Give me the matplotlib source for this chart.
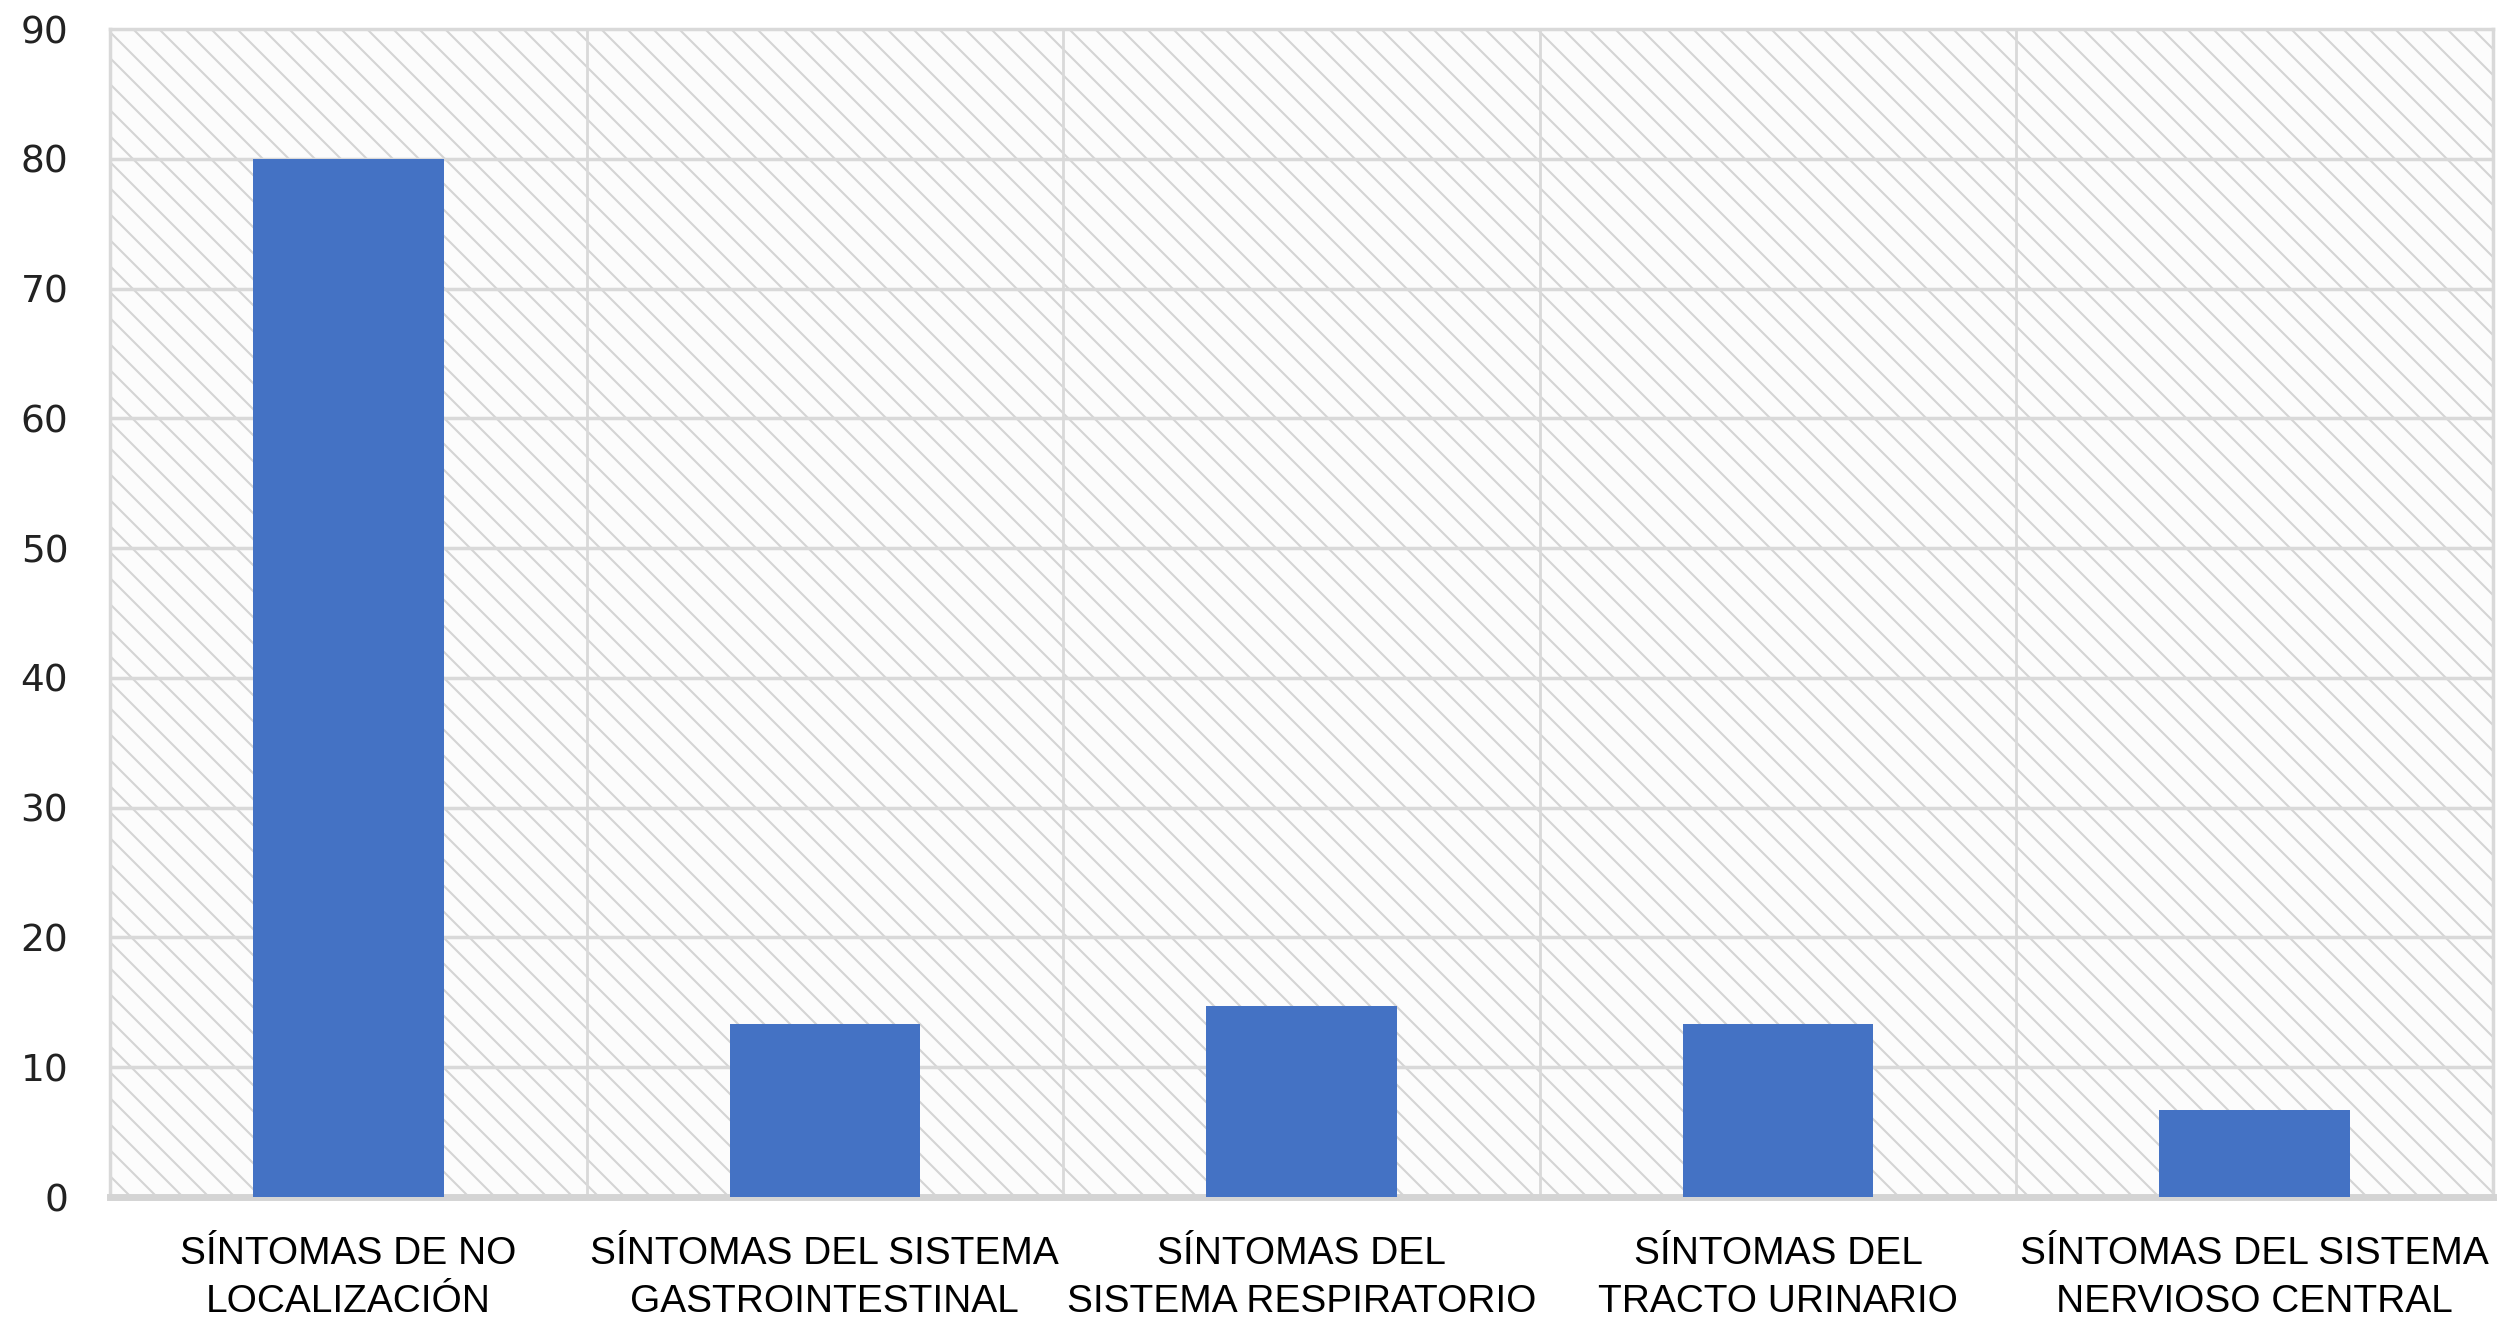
import numpy as np
import matplotlib
matplotlib.use("Agg")
import matplotlib.pyplot as plt
from matplotlib.patches import Rectangle

categories = ["SÍNTOMAS DE NO\nLOCALIZACIÓN",
              "SÍNTOMAS DEL SISTEMA\nGASTROINTESTINAL",
              "SÍNTOMAS DEL\nSISTEMA RESPIRATORIO",
              "SÍNTOMAS DEL\nTRACTO URINARIO",
              "SÍNTOMAS DEL SISTEMA\nNERVIOSO CENTRAL"]
values = [80, 13.3, 14.7, 13.3, 6.7]
yticks = list(range(0, 91, 10))

bar_color = "#4472c4"
grid_color = "#d9d9d9"

# dpi 78 gives a hatch spacing of ~13 px; k keeps sizes as they were at dpi 100
DPI = 78
k = 100 / DPI

plt.rcParams["hatch.color"] = "#d4d4d4"
plt.rcParams["hatch.linewidth"] = 1.5 * k

fig = plt.figure(figsize=(2516 / DPI, 1337 / DPI), dpi=DPI)
ax = fig.add_axes([0.0437, 0.1047, 0.9471, 0.8736])

x = np.arange(len(categories))
ax.set_xlim(-0.5, len(categories) - 0.5)
ax.set_ylim(0, 90)

# hatched plot area
ax.add_patch(Rectangle((0, 0), 1, 1, transform=ax.transAxes, facecolor="#fcfcfc",
                       edgecolor="#d4d4d4", hatch="\\", linewidth=0, zorder=0))

for y in yticks[1:-1]:
    ax.axhline(y, color=grid_color, lw=2.5 * k, zorder=1)
for b in np.arange(0.5, len(categories) - 0.5, 1):
    ax.axvline(b, color=grid_color, lw=2.0 * k, zorder=1)

ax.bar(x, values, width=0.4, color=bar_color, zorder=3)

for s in ["left", "top", "right"]:
    ax.spines[s].set_color(grid_color)
    ax.spines[s].set_linewidth(2.5 * k)
ax.spines["bottom"].set_color("#d4d4d4")
ax.spines["bottom"].set_linewidth(5 * k)

ax.set_yticks(yticks)
ax.set_yticklabels([str(v) for v in yticks], fontsize=27 * k, family="DejaVu Sans",
                   color="#222222")
ax.tick_params(axis="y", length=0, pad=30 * k)
ax.set_xticks(x)
ax.set_xticklabels(categories, fontsize=28 * k, family=["Liberation Sans", "DejaVu Sans"],
                   linespacing=1.42)
ax.tick_params(axis="x", length=0, pad=28 * k)

fig.savefig("out.png", dpi=DPI)
